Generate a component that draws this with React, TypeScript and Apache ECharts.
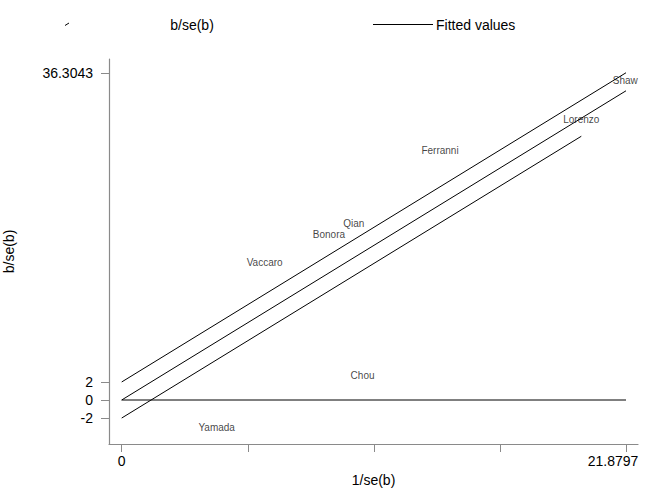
import React, { useEffect, useRef } from "react";
import * as echarts from "echarts";

// Study labels placed at (1/se(b), b/se(b))
const studyNames = ["Shaw", "Lorenzo", "Ferranni", "Qian", "Bonora", "Vaccaro", "Chou", "Yamada"];
const precision = [21.85, 19.94, 13.81, 10.07, 8.99, 6.2, 10.45, 4.12];
const zScores = [35.48, 31.1, 27.7, 19.63, 18.41, 15.3, 2.7, -3.08];

// Regression line through the origin and its +/-2 band
const fitX = [0, 21.8797];
const fitY = [0, 34.3043];
const upperX = [0, 21.8797];
const upperY = [2, 36.3043];
const lowerX = [0, 19.94];
const lowerY = [-2, 29.26];
const zeroX = [0, 21.8797];
const zeroY = [0, 0];

// Axis ticks and labels
const xTicks = [0, 5.4699, 10.9399, 16.4098, 21.8797];
const xTickLabels = [0, 21.8797];
const yTicks = [-2, 0, 2, 36.3043];
const yTickLabels = [-2, 0, 2, 36.3043];

const FONT = "Liberation Sans, Arial, sans-serif";
const AXIS_GRAY = "#8a8a8a";

const pairs = (xs: number[], ys: number[]) => xs.map((x, i) => [x, ys[i]]);

export default function App() {
  const ref = useRef<HTMLDivElement>(null);

  useEffect(() => {
    if (!ref.current) return;
    const chart = echarts.init(ref.current, undefined, { renderer: "svg" });

    const lineSeries = (name: string, data: number[][]) => ({
      type: "line",
      name,
      data,
      symbol: "none",
      lineStyle: { color: "#000", width: 1 },
      silent: true,
    });

    chart.setOption({
      animation: false,
      backgroundColor: "#fff",
      textStyle: { fontFamily: FONT },
      grid: { left: 109, right: 15, top: 59, bottom: 48, containLabel: false, outerBoundsMode: "none" },
      xAxis: {
        type: "value",
        min: -0.551,
        max: 22.4,
        name: "1/se(b)",
        nameLocation: "middle",
        nameGap: 28,
        nameTextStyle: { fontSize: 14, color: "#000", fontFamily: FONT },
        axisLine: { show: true, onZero: false, lineStyle: { color: AXIS_GRAY, width: 1.2 } },
        axisTick: { show: true, length: 8, lineStyle: { color: AXIS_GRAY }, customValues: xTicks },
        axisLabel: {
          fontSize: 14,
          color: "#000",
          fontFamily: FONT,
          margin: 10,
          customValues: xTickLabels,
          // the last label sits left of its tick, kept inside the plot edge
          formatter: (v: number) => (v === xTickLabels[xTickLabels.length - 1] ? `{edge|${v}}` : String(v)),
          rich: {
            edge: { fontSize: 14, color: "#000", fontFamily: FONT, padding: [0, 26, 0, 0] },
          },
        },
        splitLine: { show: false },
      },
      yAxis: {
        type: "value",
        min: -4.88,
        max: 37.83,
        name: "b/se(b)",
        nameLocation: "middle",
        nameGap: 93,
        nameRotate: 90,
        nameTextStyle: { fontSize: 14, color: "#000", fontFamily: FONT },
        axisLine: { show: true, onZero: false, lineStyle: { color: AXIS_GRAY, width: 1.2 } },
        axisTick: { show: true, length: 8, lineStyle: { color: AXIS_GRAY }, customValues: yTicks },
        axisLabel: {
          fontSize: 14,
          color: "#000",
          fontFamily: FONT,
          margin: 16,
          customValues: yTickLabels,
          formatter: (v: number) => String(v),
        },
        splitLine: { show: false },
      },
      series: [
        lineSeries("upper", pairs(upperX, upperY)),
        lineSeries("Fitted values", pairs(fitX, fitY)),
        lineSeries("lower", pairs(lowerX, lowerY)),
        lineSeries("zero", pairs(zeroX, zeroY)),
        {
          type: "scatter",
          name: "b/se(b)",
          symbolSize: 0,
          data: studyNames.map((n, i) => ({ name: n, value: [precision[i], zScores[i]] })),
          label: {
            show: true,
            position: "inside",
            formatter: (p: any) => p.name,
            fontSize: 10,
            color: "#111",
            fontFamily: FONT,
          },
          silent: true,
        },
      ],
      graphic: [
        {
          type: "line",
          shape: { x1: 65, y1: 25.5, x2: 69, y2: 23 },
          style: { stroke: "#000", lineWidth: 1 },
        },
        {
          type: "text",
          x: 192,
          y: 25,
          style: {
            text: "b/se(b)",
            fontSize: 14,
            fontFamily: FONT,
            fill: "#000",
            align: "center",
            verticalAlign: "middle",
          },
        },
        {
          type: "line",
          shape: { x1: 373, y1: 24.5, x2: 433, y2: 24.5 },
          style: { stroke: "#000", lineWidth: 1 },
        },
        {
          type: "text",
          x: 436,
          y: 25,
          style: {
            text: "Fitted values",
            fontSize: 14,
            fontFamily: FONT,
            fill: "#000",
            align: "left",
            verticalAlign: "middle",
          },
        },
      ],
    });

    return () => chart.dispose();
  }, []);

  return (
    <div
      ref={ref}
      style={{ position: "fixed", left: 0, top: 0, width: 653, height: 492, background: "#fff" }}
    />
  );
}
